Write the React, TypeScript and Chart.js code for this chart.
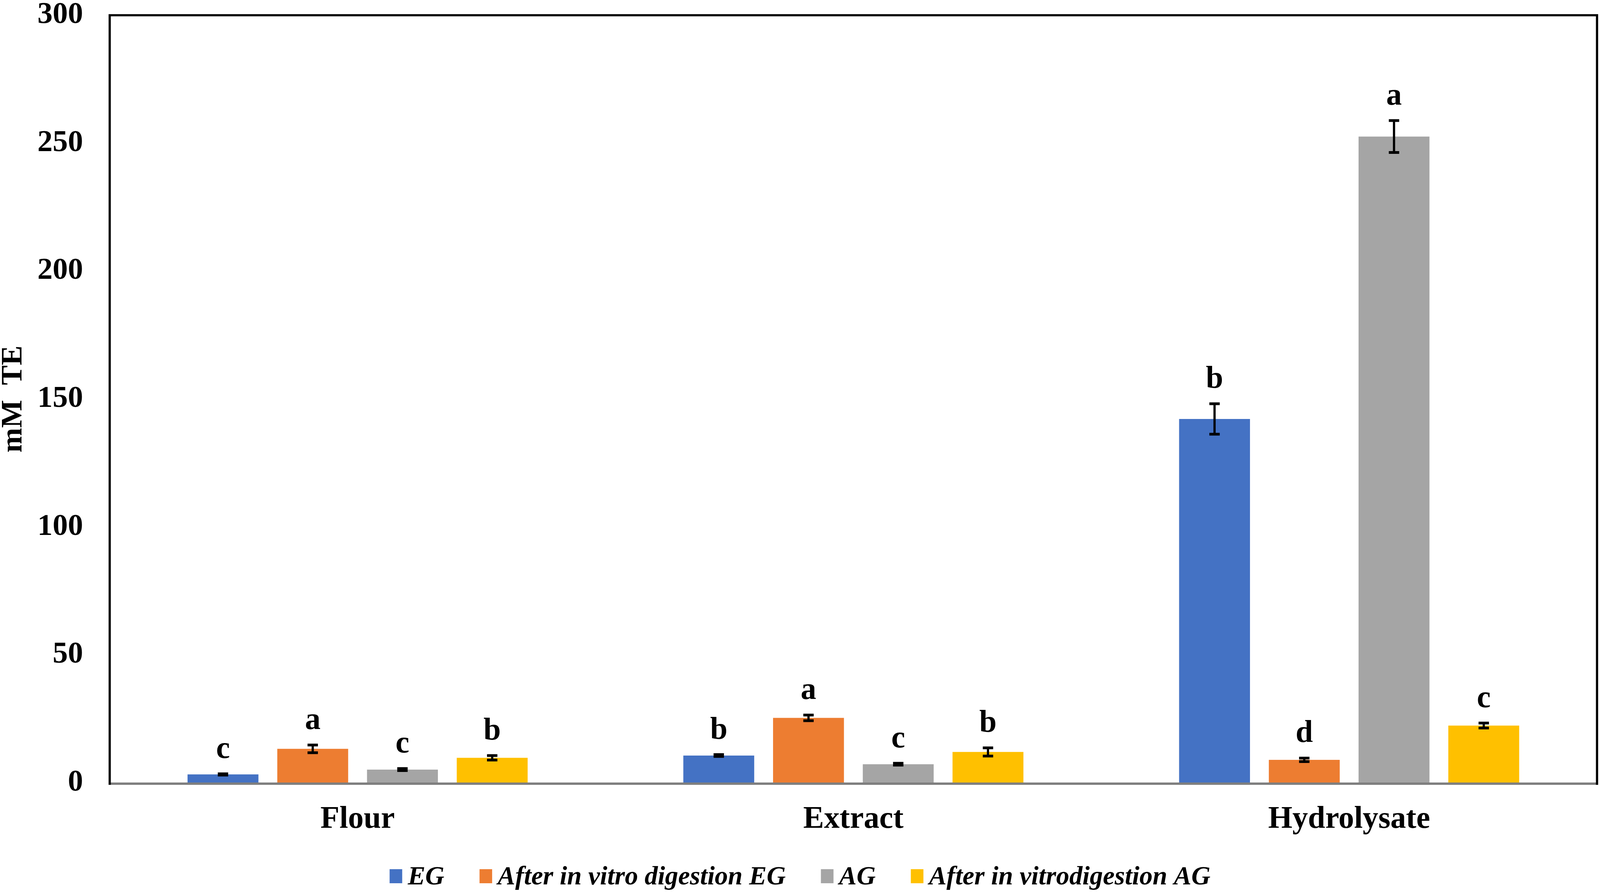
import React, { useEffect, useRef } from "react";
import { Chart, registerables } from "chart.js";

Chart.register(...registerables);

const categories = ["Flour", "Extract", "Hydrolysate"];
const seriesNames = [
  "EG",
  "After in vitro digestion EG",
  "AG",
  "After in vitrodigestion AG",
];
const seriesColors = ["#4472C4", "#ED7D31", "#A5A5A5", "#FFC000"];

const egValues = [3.3, 10.7, 142.2];
const afterEgValues = [13.3, 25.4, 9.0];
const agValues = [5.2, 7.3, 252.6];
const afterAgValues = [9.8, 12.1, 22.4];

const egErrors = [0.25, 0.35, 5.95];
const afterEgErrors = [1.5, 1.1, 0.7];
const agErrors = [0.4, 0.35, 6.25];
const afterAgErrors = [0.87, 1.6, 0.97];

const egLetters = ["c", "b", "b"];
const afterEgLetters = ["a", "a", "d"];
const agLetters = ["c", "c", "a"];
const afterAgLetters = ["b", "b", "c"];

const yTicks = [0, 50, 100, 150, 200, 250, 300];
const yTitle = "mM \u00A0TE";

const FONT = '"Liberation Serif", "Times New Roman", serif';
const REF_W = 4317;
const REF_H = 2287;

function kx(chart: any) {
  return chart.width / REF_W;
}
function ky(chart: any) {
  return chart.height / REF_H;
}

const errorBarPlugin = {
  id: "errorBars",
  afterDatasetsDraw(chart: any) {
    const sx = kx(chart);
    const sy = ky(chart);
    const ctx = chart.ctx;
    const yScale = chart.scales.y;
    ctx.save();
    chart.data.datasets.forEach((ds: any, di: number) => {
      const meta = chart.getDatasetMeta(di);
      meta.data.forEach((el: any, i: number) => {
        const v = ds.data[i];
        const e = ds.errors[i];
        const x = el.x;
        const yT = yScale.getPixelForValue(v + e);
        const yB = yScale.getPixelForValue(v - e);
        ctx.strokeStyle = "#000";
        ctx.lineWidth = 6 * sx;
        ctx.beginPath();
        ctx.moveTo(x, yT);
        ctx.lineTo(x, yB);
        ctx.stroke();
        ctx.lineWidth = 7 * sy;
        ctx.beginPath();
        ctx.moveTo(x - 14 * sx, yT);
        ctx.lineTo(x + 14 * sx, yT);
        ctx.moveTo(x - 14 * sx, yB);
        ctx.lineTo(x + 14 * sx, yB);
        ctx.stroke();
        ctx.fillStyle = "#000";
        ctx.font = `bold ${84 * sx}px ${FONT}`;
        ctx.textAlign = "center";
        ctx.textBaseline = "alphabetic";
        ctx.fillText(ds.letters[i], x, yT - 41 * sy);
      });
    });
    ctx.restore();
  },
};

const framePlugin = {
  id: "frame",
  afterDatasetsDraw(chart: any) {
    const sx = kx(chart);
    const sy = ky(chart);
    const { left, right, top, bottom } = chart.chartArea;
    const ctx = chart.ctx;
    ctx.save();
    ctx.strokeStyle = "#7F7F7F";
    ctx.lineWidth = 6 * sy;
    ctx.beginPath();
    ctx.moveTo(left, bottom + 2 * sy);
    ctx.lineTo(right, bottom + 2 * sy);
    ctx.stroke();
    ctx.strokeStyle = "#000";
    ctx.lineWidth = 6 * sx;
    ctx.beginPath();
    ctx.moveTo(left, bottom + 5 * sy);
    ctx.lineTo(left, top);
    ctx.lineTo(right, top);
    ctx.lineTo(right, bottom + 5 * sy);
    ctx.stroke();
    ctx.restore();
  },
};

const legendPlugin = {
  id: "customLegend",
  afterDraw(chart: any) {
    const sx = kx(chart);
    const sy = ky(chart);
    const ctx = chart.ctx;
    ctx.save();
    ctx.font = `italic bold ${71 * sx}px ${FONT}`;
    const boxW = 34 * sx;
    const boxH = 36 * sy;
    const gap = 15 * sx;
    const itemGap = 95 * sx;
    const items = chart.data.datasets.map((ds: any) => ({
      text: ds.label,
      color: ds.backgroundColor,
      w: ctx.measureText(ds.label).width,
    }));
    const total =
      items.reduce((s: number, it: any) => s + boxW + gap + it.w, 0) +
      itemGap * (items.length - 1);
    let x = chart.width / 2 - total / 2;
    const baseline = chart.height - 22 * sy;
    const boxTop = baseline - 39 * sy;
    items.forEach((it: any) => {
      ctx.fillStyle = it.color;
      ctx.fillRect(x, boxTop, boxW, boxH);
      x += boxW + gap;
      ctx.fillStyle = "#000";
      ctx.textAlign = "left";
      ctx.textBaseline = "alphabetic";
      ctx.fillText(it.text, x, baseline);
      x += it.w + itemGap;
    });
    ctx.restore();
  },
};

export default function App() {
  const canvasRef = useRef<HTMLCanvasElement | null>(null);

  useEffect(() => {
    document.body.style.margin = "0";
    document.body.style.overflow = "hidden";
    const canvas = canvasRef.current;
    if (!canvas) return;
    const sx = window.innerWidth / REF_W;
    const sy = window.innerHeight / REF_H;
    const valueSets = [egValues, afterEgValues, agValues, afterAgValues];
    const errorSets = [egErrors, afterEgErrors, agErrors, afterAgErrors];
    const letterSets = [egLetters, afterEgLetters, agLetters, afterAgLetters];
    const chart = new Chart(canvas, {
      type: "bar",
      data: {
        labels: categories,
        datasets: seriesNames.map((name, i) => ({
          label: name,
          data: valueSets[i],
          errors: errorSets[i],
          letters: letterSets[i],
          backgroundColor: seriesColors[i],
          borderWidth: 0,
          barPercentage: 0.79,
          categoryPercentage: 0.724,
        })) as any,
      },
      options: {
        animation: false,
        responsive: true,
        maintainAspectRatio: false,
        layout: { padding: { left: 0, right: 8 * sx, top: 39 * sy, bottom: 0 } },
        plugins: {
          legend: { display: false },
          tooltip: { enabled: false },
        },
        scales: {
          x: {
            grid: { display: false, drawTicks: false },
            border: { display: false },
            ticks: {
              color: "#000",
              padding: 47 * sy,
              font: { family: FONT, size: 84 * sx, weight: "bold" },
            },
            afterFit(scale: any) {
              scale.height = 282 * sy;
              scale.paddingLeft = 0;
              scale.paddingRight = 0;
            },
          },
          y: {
            min: 0,
            max: 300,
            afterBuildTicks(scale: any) {
              scale.ticks = yTicks.map((v) => ({ value: v }));
            },
            grid: { display: false, drawTicks: false },
            border: { display: false },
            ticks: {
              color: "#000",
              padding: 72 * sx,
              font: { family: FONT, size: 82 * sx, weight: "bold" },
            },
            title: {
              display: true,
              text: yTitle,
              color: "#000",
              padding: 0,
              font: { family: FONT, size: 80 * sx, weight: "bold", lineHeight: 0.92 },
            },
            afterFit(scale: any) {
              scale.width = 296 * sx;
              scale.paddingTop = 0;
              scale.paddingBottom = 0;
            },
          },
        },
      } as any,
      plugins: [framePlugin, errorBarPlugin, legendPlugin],
    });
    return () => chart.destroy();
  }, []);

  return (
    <div style={{ width: "100vw", height: "100vh", position: "relative" }}>
      <canvas ref={canvasRef} />
    </div>
  );
}
